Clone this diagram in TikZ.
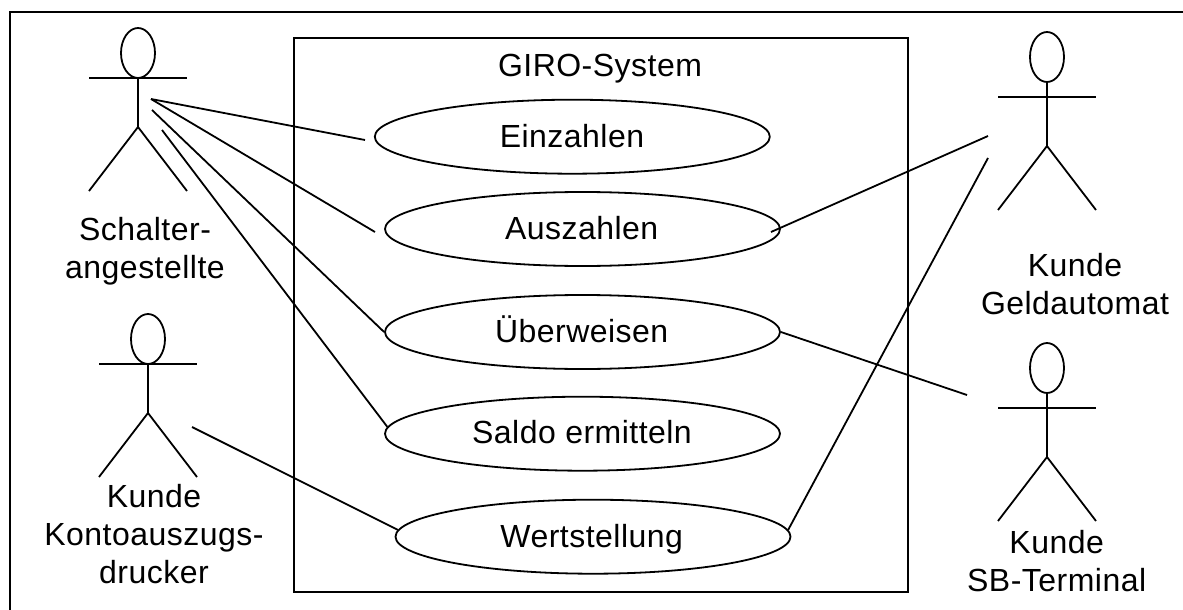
\documentclass[tikz,border=0pt]{standalone}
\usepackage{fontspec}
\setmainfont[LetterSpace=1.5]{Liberation Sans}
\usetikzlibrary{shapes.geometric}

\tikzset{
    usecase/.style={draw,ellipse,line width=1.8pt,minimum width=395pt,minimum height=74pt,inner sep=0pt},
    caption/.style={align=center,anchor=base,inner sep=0pt,font=\fontsize{32}{37.7}\selectfont},
    assoc/.style={line width=1.8pt},
    actor/.pic={
        \draw[assoc] (0,25) ellipse [x radius=17,y radius=25];
        \draw[assoc] (-49,#1) -- (49,#1);
        \draw[assoc] (0,49) -- (0,#1+49);
        \draw[assoc] (-49,#1+113) -- (0,#1+49) -- (49,#1+113);
    }
}

\begin{document}
\begin{tikzpicture}[x=1pt,y=-1pt]
            \useasboundingbox (0,0) rectangle (1183,610);

            % Outer edge and system box
            \draw[line width=2.2pt] (10,610) -- (10,12) -- (1183,12);
            \draw[line width=2pt] (294,38) rectangle (907.5,592);
            \node[caption] (system) at (600,77) {GIRO-System};

            % Use cases
            \node[usecase] (einzahlen) at (572.3,136.7) {};
            \node[usecase] (auszahlen) at (582.5,229) {};
            \node[usecase] (ueberweisen) at (582.5,332) {};
            \node[usecase] (saldo) at (582.5,433.7) {};
            \node[usecase] (wert) at (593,536.7) {};

            \node[caption] (einzahlenText) at (572,147) {Einzahlen};
            \node[caption] (auszahlenText) at (581.7,239.5) {Auszahlen};
            \node[caption] (ueberweisenText) at (581.7,342) {Überweisen};
            \node[caption] (saldoText) at (582,443.5) {Saldo ermitteln};
            \node[caption] (wertText) at (591.7,547) {Wertstellung};

            % Actors
            \pic at (138,28) {actor=50};
            \pic at (148,314) {actor=50};
            \pic at (1047,32) {actor=65};
            \pic at (1047,343) {actor=65};

            \node[caption] (schalter) at (145,278) {Schalter-\\angestellte};
            \node[caption] (drucker) at (154,583) {Kunde\\Kontoauszugs-\\drucker};
            \node[caption] (geldautomat) at (1075,314.5) {Kunde\\Geldautomat};
            \node[caption] (terminal) at (1056.7,591) {Kunde\\SB-Terminal};

            % Define free line ends
            \coordinate (schalterA) at (151,99);
            \coordinate (schalterB) at (152,110);
            \coordinate (schalterC) at (162,130);
            \coordinate (druckerA) at (192,427);
            \coordinate (geldA) at (988,136);
            \coordinate (geldB) at (988,158);
            \coordinate (terminalA) at (967,395);
            \coordinate (einzahlenL) at (365,140);
            \coordinate (auszahlenL) at (375,232);
            \coordinate (auszahlenR) at (771,232);

            % Draw the associations
            \draw[assoc] (schalterA) -- (einzahlenL);
            \draw[assoc] (schalterA) -- (auszahlenL);
            \draw[assoc] (schalterB) -- (ueberweisen.west);
            \draw[assoc] (schalterC) -- (saldo.178);
            \draw[assoc] (druckerA) -- (wert.178);
            \draw[assoc] (auszahlenR) -- (geldA);
            \draw[assoc] (wert.2.5) -- (geldB);
            \draw[assoc] (ueberweisen.east) -- (terminalA);
        \end{tikzpicture}
\end{document}
